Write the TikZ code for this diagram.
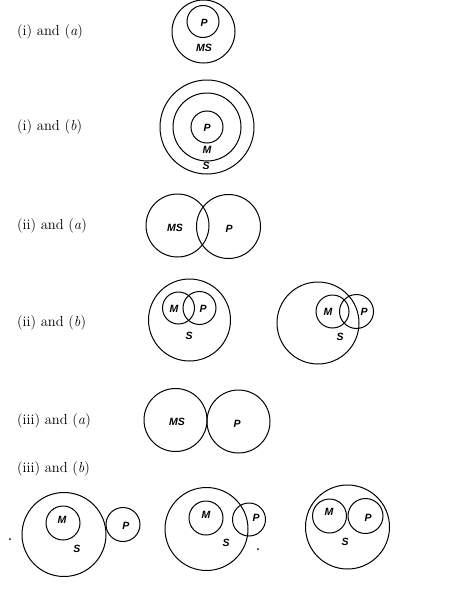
\documentclass[tikz,border=0pt]{standalone}
\usepackage{fontspec}
\newfontfamily\labfont{Liberation Sans}
\begin{document}
\begin{tikzpicture}[x=1pt,y=-1pt,
  ring/.style={draw=black,line width=1pt},
  lbl/.style={font=\labfont\bfseries\itshape\fontsize{10.5}{12}\selectfont,inner sep=0pt},
  rowlbl/.style={font=\fontsize{14.5}{16}\selectfont,anchor=west,inner sep=0pt}]
\useasboundingbox (0,0) rectangle (452,605);
% row labels
\node[rowlbl] (r1) at (17,32) {(i) and (\textit{a})};
\node[rowlbl] (r2) at (17,127) {(i) and (\textit{b})};
\node[rowlbl] (r3) at (17,226) {(ii) and (\textit{a})};
\node[rowlbl] (r4) at (17,323) {(ii) and (\textit{b})};
\node[rowlbl] (r5) at (17,421) {(iii) and (\textit{a})};
\node[rowlbl] (r6) at (17,469) {(iii) and (\textit{b})};
% (i)(a)
\draw[ring] (203.5,31.5) circle (31.5pt);
\draw[ring] (203,21.5) circle (16pt);
\node[lbl] (a1p) at (204,22.5) {P};
\node[lbl] (a1ms) at (204,48) {MS};
% (i)(b)
\draw[ring] (207,127) circle (47pt);
\draw[ring] (207,127) circle (34pt);
\draw[ring] (207,127) circle (16pt);
\node[lbl] (b1p) at (207,128) {P};
\node[lbl] (b1m) at (207,150) {M};
\node[lbl] (b1s) at (206,166) {S};
% (ii)(a)
\draw[ring] (177.5,225.5) circle (31.5pt);
\draw[ring] (228.5,226.5) circle (32pt);
\node[lbl] (a2ms) at (175,228) {MS};
\node[lbl] (a2p) at (229,229) {P};
% (ii)(b) first
\draw[ring] (189.5,320) circle (41pt);
\draw[ring] (178.5,308) circle (16pt);
\draw[ring] (199.5,308) circle (16.5pt);
\node[lbl] (b2m) at (174,309) {M};
\node[lbl] (b2p) at (203,309) {P};
\node[lbl] (b2s) at (189,336) {S};
% (ii)(b) second
\draw[ring] (318,323) circle (41pt);
\draw[ring] (332.5,311.5) circle (16.5pt);
\draw[ring] (356.5,311.5) circle (17pt);
\node[lbl] (c2m) at (328,312) {M};
\node[lbl] (c2p) at (364,312) {P};
\node[lbl] (c2s) at (340,337) {S};
% (iii)(a)
\draw[ring] (175.5,420) circle (31.5pt);
\draw[ring] (238.5,421.5) circle (31.5pt);
\node[lbl] (a3ms) at (177,422) {MS};
\node[lbl] (a3p) at (237,424) {P};
% (iii)(b) group 1
\draw[ring] (64,534.5) circle (42pt);
\draw[ring] (63,523) circle (17pt);
\draw[ring] (123,524.5) circle (17pt);
\node[lbl] (g1m) at (62,520) {M};
\node[lbl] (g1p) at (126,526) {P};
\node[lbl] (g1s) at (77,549) {S};
\fill (10,539) circle (1pt);
% group 2
\draw[ring] (206.5,529) circle (41.5pt);
\draw[ring] (206,518) circle (17pt);
\draw[ring] (249,519.5) circle (16.5pt);
\node[lbl] (g2m) at (206,515) {M};
\node[lbl] (g2p) at (256,518) {P};
\node[lbl] (g2s) at (226,543) {S};
\fill (258,549) circle (1pt);
% group 3
\draw[ring] (347.5,527) circle (42pt);
\draw[ring] (329.5,516) circle (17pt);
\draw[ring] (365.5,516) circle (17.5pt);
\node[lbl] (g3m) at (329,512) {M};
\node[lbl] (g3p) at (368,518) {P};
\node[lbl] (g3s) at (345,542) {S};
\end{tikzpicture}
\end{document}
